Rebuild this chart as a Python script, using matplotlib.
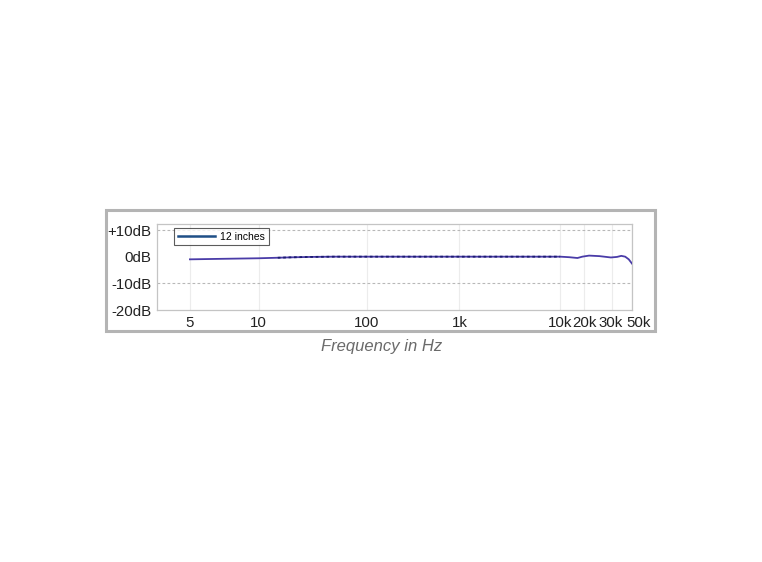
import numpy as np
import matplotlib
matplotlib.use("Agg")
import matplotlib.pyplot as plt
import matplotlib.transforms as mtransforms
from matplotlib.patches import Rectangle
from matplotlib.lines import Line2D

# ---- data ----
freqs = [5, 7, 10, 15, 20, 30, 50, 100, 200, 500, 1000, 2000, 5000, 10000,
         13000, 16500, 19000, 21500, 25000, 29500, 34000, 38000, 42000, 46000, 50000]
level_db = [-1.0, -0.8, -0.6, -0.4, -0.25, -0.1, 0.0, 0.0, 0.0, 0.0, 0.0, 0.0, 0.0, 0.0,
            -0.2, -0.5, 0.0, 0.4, 0.2, -0.3, -0.1, 0.3, 0.0, -1.0, -2.6]
x_ticks = [5, 10, 100, 1000, 10000, 20000, 30000, 50000]
x_tick_labels = ["5", "10", "100", "1k", "10k", "20k", "30k", "50k"]
y_ticks = [10, 0, -10, -20]
y_tick_labels = ["+10dB", "0dB", "-10dB", "-20dB"]
series_name = "12 inches"

# ---- non-uniform frequency axis (piecewise log scale as in the original) ----
_scale_f = np.log10([3.6, 5, 10, 100, 1000, 10000, 20000, 30000, 50000])
_scale_p = np.array([0, 33, 102, 210, 303, 404, 428, 456, 476], dtype=float)

def fwd(f):
    f = np.clip(np.asarray(f, dtype=float), 1e-3, None)
    return np.interp(np.log10(f), _scale_f, _scale_p)

def inv(p):
    return 10 ** np.interp(np.asarray(p, dtype=float), _scale_p, _scale_f)

plt.rcParams['font.family'] = ['Liberation Sans', 'DejaVu Sans']

fig = plt.figure(figsize=(7.62, 5.62), dpi=100)
fig.patch.set_facecolor("white")

# outer frame
fig.patches.append(Rectangle((106/762, 1-331/562), 549/762, 121/562,
                             transform=fig.transFigure, fill=False,
                             edgecolor="#b4b4b4", linewidth=2.2, zorder=0))

ax = fig.add_axes([157/762, 1-310/562, 475/762, 86/562])
ax.set_xscale('function', functions=(fwd, inv))
ax.set_xlim(3.6, 50000)
ax.set_ylim(-20, 12.25)

# faint vertical grid
for xv in x_ticks:
    ax.axvline(xv, color="#ececec", lw=0.8, zorder=0)
# dashed horizontal grid
for yv in [10, -10]:
    ax.axhline(yv, color="#b8b8b8", lw=0.8, ls=(0, (2.5, 2)), zorder=1)

f_arr = np.array(freqs)
d_arr = np.array(level_db)
ax.plot(f_arr, d_arr, color="#4a3ca8", lw=1.3, zorder=3)
mask = (f_arr >= 15) & (f_arr <= 10000)
ax.plot(f_arr[mask], d_arr[mask], color="#1c1c70", lw=1.3,
        ls=(0, (1.5, 1.5)), zorder=4)

ax.set_xticks(x_ticks)
ax.set_xticklabels(x_tick_labels)
ax.set_yticks(y_ticks)
ax.set_yticklabels(y_tick_labels)
ax.minorticks_off()
ax.tick_params(axis='both', length=0, labelsize=10.8, colors="#222222")
ax.tick_params(axis='x', pad=4)
ax.tick_params(axis='y', pad=4)
for s in ax.spines.values():
    s.set_color("#c4c4c4")
    s.set_linewidth(0.9)

# nudge crowded end labels apart (as in the original)
nudges = {"20k": 0, "30k": -1, "50k": 7}
for lab in ax.get_xticklabels():
    dx = nudges.get(lab.get_text(), 0)
    if dx:
        lab.set_transform(lab.get_transform() +
                          mtransforms.ScaledTranslation(dx/100, 0, fig.dpi_scale_trans))

# legend
h = Line2D([], [], color="#1f4f86", lw=1.8)
leg = ax.legend([h], [series_name], loc='upper left', bbox_to_anchor=(0.036, 0.955),
                borderaxespad=0, fontsize=7.5, frameon=True, fancybox=False,
                handlelength=3.6, handletextpad=0.5, borderpad=0.35)
leg.get_frame().set_edgecolor("#333333")
leg.get_frame().set_linewidth(0.8)

fig.text(382/762, 1-347/562, "Frequency in Hz", ha='center', va='center',
         fontsize=12, style='italic', color="#6a6a6a")

fig.savefig("out.png", dpi=100)
